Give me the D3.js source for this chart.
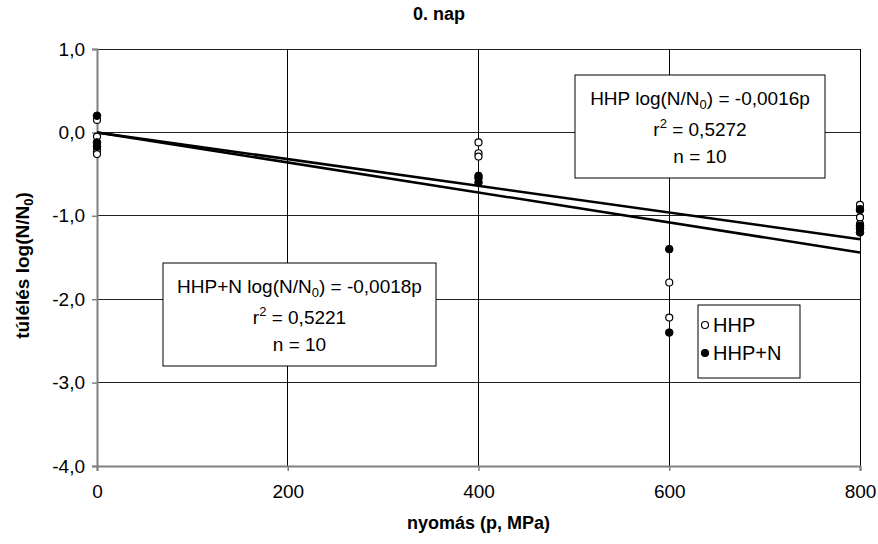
<!DOCTYPE html>
<html><head><meta charset="utf-8">
<script src="https://cdn.jsdelivr.net/npm/d3@7"></script>
<style>body{margin:0;background:#fff}svg{display:block}text{font-family:"Liberation Sans",Arial,sans-serif}</style>
</head><body><svg id="c" width="878" height="544"></svg>
<script>
const xTicks = [0, 200, 400, 600, 800];
const yTicks = [1, 0, -1, -2, -3, -4];
const hhpX = [0, 0, 0, 0, 400, 400, 400, 600, 600, 800, 800, 800, 800];
const hhpY = [0.15, -0.05, -0.22, -0.26, -0.12, -0.25, -0.29, -1.8, -2.22, -0.87, -0.92, -1.02, -1.1];
const hhpnX = [0, 0, 0, 400, 400, 400, 600, 600, 800, 800, 800, 800];
const hhpnY = [0.2, -0.12, -0.17, -0.52, -0.55, -0.6, -1.4, -2.4, -0.93, -1.12, -1.15, -1.2];
const slopes = [-0.0016, -0.0018];
const seriesNames = ["HHP", "HHP+N"];
const eqHHP = ["HHP log(N/N", "0", ") = -0,0016p"], r2HHP = "0,5272";
const eqHHPN = ["HHP+N log(N/N", "0", ") = -0,0018p"], r2HHPN = "0,5221";
const nText = "n = 10";

const svg = d3.select("#c");
const L = 97, R = 860, T = 49, B = 466;
const x = d3.scaleLinear().domain([0, 800]).range([L, R]);
const y = d3.scaleLinear().domain([-4, 1]).range([B, T]);
const fmt = d => d3.format(".1f")(d).replace(".", ",").replace("−", "-");

// gridlines
svg.append("g").selectAll("line").data(yTicks).join("line")
  .attr("x1", L).attr("x2", R).attr("y1", d => y(d)).attr("y2", d => y(d))
  .attr("stroke", "#222").attr("stroke-width", 1).attr("shape-rendering", "crispEdges");
svg.append("g").selectAll("line").data(xTicks).join("line")
  .attr("x1", d => x(d)).attr("x2", d => x(d)).attr("y1", T).attr("y2", B)
  .attr("stroke", "#000").attr("stroke-width", 1).attr("shape-rendering", "crispEdges");

// axes
const yAx = svg.append("g").attr("transform", `translate(${L},0)`)
  .call(d3.axisLeft(y).tickValues(yTicks).tickSize(5).tickPadding(7).tickFormat(fmt));
const xAx = svg.append("g").attr("transform", `translate(0,${B})`)
  .call(d3.axisBottom(x).tickValues(xTicks).tickSize(5).tickPadding(14).tickFormat(d3.format("d")));
[yAx, xAx].forEach(a => {
  a.select(".domain").attr("stroke", "#808080").attr("stroke-width", 2);
  a.selectAll(".tick line").attr("stroke", "#808080").attr("stroke-width", 1.5);
  a.selectAll("text").attr("font-size", 19).attr("fill", "#000").style("font-family", "Liberation Sans, Arial");
});

// regression lines
slopes.forEach(s => {
  svg.append("line").attr("x1", x(0)).attr("y1", y(0)).attr("x2", x(800)).attr("y2", y(s * 800))
    .attr("stroke", "#000").attr("stroke-width", 2.5);
});

// points
svg.append("g").selectAll("circle").data(hhpX.map((d, i) => [d, hhpY[i]])).join("circle")
  .attr("cx", d => x(d[0])).attr("cy", d => y(d[1])).attr("r", 3.5)
  .attr("fill", "#fff").attr("stroke", "#000").attr("stroke-width", 1.2);
svg.append("g").selectAll("circle").data(hhpnX.map((d, i) => [d, hhpnY[i]])).join("circle")
  .attr("cx", d => x(d[0])).attr("cy", d => y(d[1])).attr("r", 3.8)
  .attr("fill", "#000").attr("stroke", "#000").attr("stroke-width", 1);

// equation boxes
function eqBox(bx, by, bw, bh, eq, r2) {
  const g = svg.append("g");
  g.append("rect").attr("x", bx).attr("y", by).attr("width", bw).attr("height", bh)
    .attr("fill", "#fff").attr("stroke", "#000").attr("stroke-width", 1);
  const cx = bx + bw / 2;
  const t1 = g.append("text").attr("x", cx).attr("y", by + 30).attr("text-anchor", "middle").attr("font-size", 19);
  t1.append("tspan").text(eq[0]);
  t1.append("tspan").attr("font-size", 13).attr("dy", 4).text(eq[1]);
  t1.append("tspan").attr("dy", -4).text(eq[2]);
  const t2 = g.append("text").attr("x", cx).attr("y", by + 61).attr("text-anchor", "middle").attr("font-size", 19);
  t2.append("tspan").text("r");
  t2.append("tspan").attr("font-size", 13).attr("dy", -8).text("2");
  t2.append("tspan").attr("dy", 8).text(" = " + r2);
  g.append("text").attr("x", cx).attr("y", by + 88).attr("text-anchor", "middle").attr("font-size", 19).text(nText);
}
eqBox(575, 75, 250, 103, eqHHP, r2HHP);
eqBox(163, 263, 273, 103, eqHHPN, r2HHPN);

// legend
const lg = svg.append("g");
lg.append("rect").attr("x", 698).attr("y", 305).attr("width", 102).attr("height", 73)
  .attr("fill", "#fff").attr("stroke", "#000").attr("stroke-width", 1);
seriesNames.forEach((n, i) => {
  const yy = 325 + i * 28;
  lg.append("circle").attr("cx", 705).attr("cy", yy).attr("r", 3.5)
    .attr("fill", i ? "#000" : "#fff").attr("stroke", "#000").attr("stroke-width", 1.2);
  lg.append("text").attr("x", 713).attr("y", yy + 7).attr("font-size", 20).text(n);
});

// titles
svg.append("text").attr("x", 439).attr("y", 20).attr("text-anchor", "middle")
  .attr("font-size", 18).attr("font-weight", "bold").text("0. nap");
svg.append("text").attr("x", (L + R) / 2).attr("y", 529).attr("text-anchor", "middle")
  .attr("font-size", 18).attr("font-weight", "bold").text("nyomás (p, MPa)");
const yt = svg.append("text").attr("transform", `translate(29,${(T + B) / 2 + 8}) rotate(-90)`)
  .attr("text-anchor", "middle").attr("font-size", 19).attr("font-weight", "bold");
yt.append("tspan").text("túlélés  log(N/N");
yt.append("tspan").attr("font-size", 13).attr("dy", 4).text("0");
yt.append("tspan").attr("dy", -4).text(")");
</script></body></html>
